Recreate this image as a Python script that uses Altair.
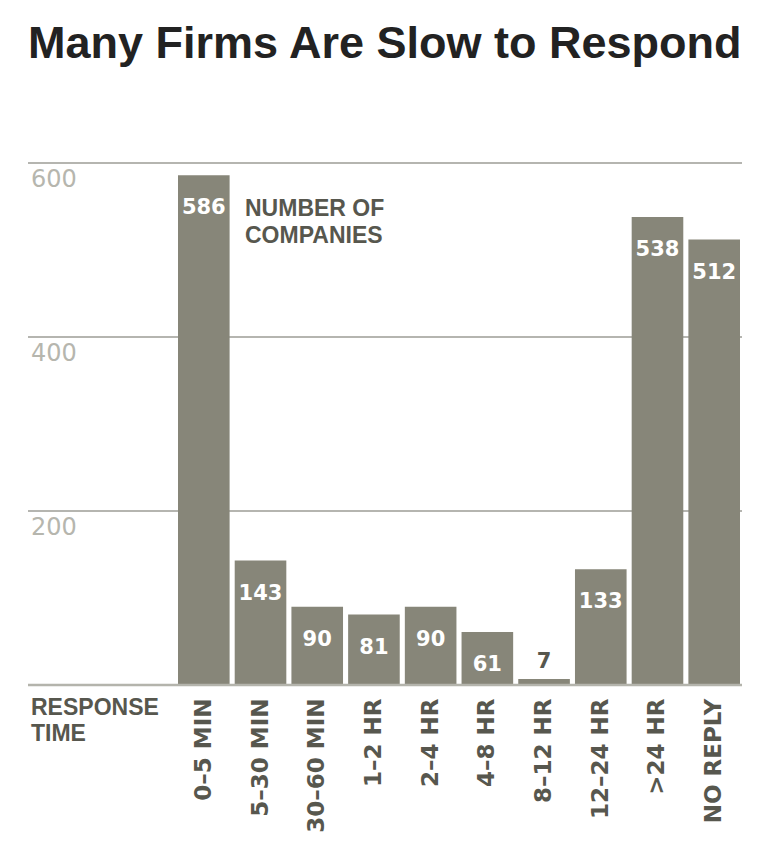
import altair as alt
import pandas as pd

categories = ["0–5 MIN", "5–30 MIN", "30–60 MIN", "1–2 HR", "2–4 HR",
              "4–8 HR", "8–12 HR", "12–24 HR", ">24 HR", "NO REPLY"]
counts = [586, 143, 90, 81, 90, 61, 7, 133, 538, 512]
grid_values = [200, 400, 600]

df = pd.DataFrame({"cat": categories, "n": counts})
grid_df = pd.DataFrame({"v": grid_values})
zero_df = pd.DataFrame({"v": [0]})

BAR = "#878679"
DARK = "#57574e"
NUMFONT = "DejaVu Sans"
ANNFONT = "Liberation Sans"

xscale = alt.Scale(domain=categories, range=[150, 712], paddingInner=0.09, paddingOuter=0)
yscale = alt.Scale(domain=[0, 600], nice=False, zero=True)

grid = alt.Chart(grid_df).mark_rule(color="#9c9c96", strokeWidth=1.5).encode(
    y=alt.Y("v:Q", scale=yscale, axis=None),
    x=alt.value(0), x2=alt.value(714),
)

ylabels = alt.Chart(grid_df).mark_text(
    align="left", baseline="top", dy=5, font=NUMFONT, fontSize=24, color="#b6b6ae"
).encode(
    y=alt.Y("v:Q", scale=yscale, axis=None),
    x=alt.value(3),
    text=alt.Text("v:Q"),
)

bars = alt.Chart(df).mark_bar(color=BAR).encode(
    x=alt.X("cat:N", scale=xscale, sort=categories, title=None,
            axis=alt.Axis(labelAngle=270, labelAlign="right", labelBaseline="middle",
                          labelPadding=13, labelFont=NUMFONT, labelFontWeight="bold",
                          labelFontSize=23, labelColor=DARK, domain=False, ticks=False,
                          grid=False, labelLimit=300)),
    y=alt.Y("n:Q", scale=yscale, axis=None),
)

baseline = alt.Chart(zero_df).mark_rule(color="#b4b4ac", strokeWidth=2.5).encode(
    y=alt.Y("v:Q", scale=yscale, axis=None),
    x=alt.value(0), x2=alt.value(714),
)

inside = alt.Chart(df).transform_filter("datum.n >= 20").mark_text(
    baseline="middle", dy=33, font=NUMFONT, fontWeight="bold", fontSize=21, color="white"
).encode(
    x=alt.X("cat:N", scale=xscale, sort=categories),
    y=alt.Y("n:Q", scale=yscale, axis=None),
    text=alt.Text("n:Q"),
)

outside = alt.Chart(df).transform_filter("datum.n < 20").mark_text(
    baseline="middle", dy=-17, font=NUMFONT, fontWeight="bold", fontSize=21, color=DARK
).encode(
    x=alt.X("cat:N", scale=xscale, sort=categories),
    y=alt.Y("n:Q", scale=yscale, axis=None),
    text=alt.Text("n:Q"),
)

title = alt.Chart(zero_df).mark_text(
    align="left", baseline="alphabetic", font="Liberation Sans", fontWeight="bold",
    fontSize=45, color="#222222"
).encode(x=alt.value(0), y=alt.value(-105), text=alt.value("Many Firms Are Slow to Respond"))

def ann(txt, x, y):
    return alt.Chart(zero_df).mark_text(
        align="left", baseline="alphabetic", font=ANNFONT, fontWeight="bold",
        fontSize=23, color=DARK
    ).encode(x=alt.value(x), y=alt.value(y), text=alt.value(txt))

ann1 = ann("NUMBER OF", 217, 53)
ann2 = ann("COMPANIES", 217, 80)
rt1 = ann("RESPONSE", 3, 552)
rt2 = ann("TIME", 3, 578)

chart = alt.layer(grid, ylabels, bars, baseline, inside, outside, title, ann1, ann2, rt1, rt2).properties(
    width=714, height=522,
    padding={"left": 20, "top": 155, "right": 24, "bottom": 150},
    autosize=alt.AutoSizeParams(type="none"),
).configure_view(stroke=None)

chart.save("out.html", embed_options={"renderer": "svg", "actions": False})
